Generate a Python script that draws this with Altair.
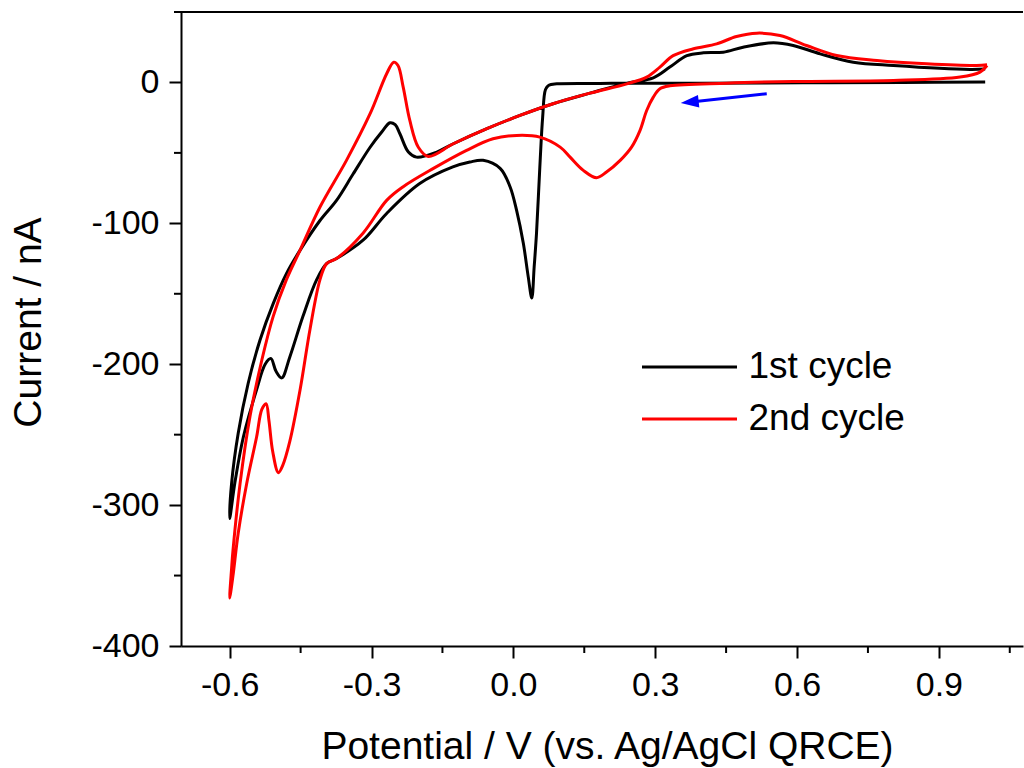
import altair as alt
import pandas as pd

FONT = "Liberation Sans"

# ---- data ----
series_names = ["1st cycle", "2nd cycle"]
series_colors = ["#000000", "#ff0000"]

cycle1_potential = [0.998, 0.823, 0.612, 0.394, 0.240, 0.183, 0.092, 0.075, 0.068, 0.062, 0.056, 0.049,
                    0.044, 0.039, 0.0315, 0.021, 0.007, -0.007, -0.028, -0.064, -0.092, -0.128, -0.198,
                    -0.268, -0.318, -0.374, -0.395, -0.416, -0.445, -0.473, -0.490, -0.502, -0.513,
                    -0.525, -0.543, -0.571, -0.589, -0.600, -0.596, -0.582, -0.561, -0.536, -0.508,
                    -0.480, -0.451, -0.409, -0.374, -0.339, -0.303, -0.278, -0.261, -0.250, -0.240,
                    -0.222, -0.205, -0.162, -0.127, -0.056, 0.014, 0.084, 0.162, 0.240, 0.296, 0.331,
                    0.367, 0.402, 0.444, 0.486, 0.550, 0.592, 0.649, 0.719, 0.804, 0.966, 0.998]
cycle1_current = [0.3, 0.0, -0.3, -0.5, -0.5, -0.7, -1.0, -2.0, -5.0, -24.6, -60, -107,
                  -131, -153, -138, -114, -91, -74, -61, -55.3, -56.5, -60, -71.8,
                  -93, -112, -125, -128.6, -140, -166, -195, -209.7, -205, -196,
                  -200, -218, -251.5, -284, -309.5, -284.6, -249, -213.7, -183, -157,
                  -135.7, -119, -98, -83.7, -65, -46, -35, -28.6, -30, -36.4,
                  -49.4, -53, -49.4, -43.5, -32.8, -23.4, -15.1, -7.6, -0.5, 3.3, 10.9,
                  19, 21, 21.5, 25, 28.1, 26.2, 20.3, 14.4, 12, 9.2, 9.5]

cycle2_potential = [1.002, 0.987, 0.945, 0.804, 0.592, 0.451, 0.331, 0.310, 0.296, 0.282, 0.268,
                    0.250, 0.226, 0.197, 0.176, 0.148, 0.120, 0.099, 0.056, 0.007, -0.043, -0.099,
                    -0.169, -0.233, -0.268, -0.318, -0.374, -0.395, -0.409, -0.430, -0.451, -0.473,
                    -0.488, -0.497, -0.509, -0.517, -0.523, -0.532, -0.543, -0.564, -0.582, -0.593,
                    -0.600, -0.596, -0.593, -0.578, -0.557, -0.532, -0.508, -0.480, -0.451, -0.409,
                    -0.353, -0.303, -0.268, -0.253, -0.244, -0.233, -0.219, -0.201, -0.180, -0.127,
                    -0.056, 0.014, 0.084, 0.162, 0.240, 0.282, 0.310, 0.338, 0.381, 0.430, 0.472,
                    0.515, 0.564, 0.620, 0.684, 0.769, 0.874, 0.980, 1.002]
cycle2_current = [12, 7.3, 3.8, 1.4, 0.7, -0.5, -2.4, -4.5, -10.4, -19.9, -34,
                  -45.9, -55.3, -63.6, -67.6, -62.4, -53, -45.9, -38.8, -37.6, -40, -48.2,
                  -61, -74, -83.7, -107, -125, -128.6, -140, -175, -218, -255,
                  -272, -277, -262, -240, -228, -232, -251.5, -284.6, -320, -350,
                  -366, -345, -332, -284.6, -237, -197, -166, -140, -119, -88.4,
                  -55.3, -22.2, 6.2, 14.4, 12, -3.3, -27, -46, -52.5, -43.5,
                  -32.8, -23.4, -15.1, -7.6, -1, 3.8, 10.9, 19, 23.9, 27.4, 32.6,
                  35, 33.3, 26.2, 19.1, 15.6, 13.2, 12, 12.5]

x_major = [-0.6, -0.3, 0.0, 0.3, 0.6, 0.9]
x_minor = [-0.45, -0.15, 0.15, 0.45, 0.75, 1.05]
y_major = [-400, -300, -200, -100, 0]
y_minor = [-350, -250, -150, -50, 50]

arrow_potential = [0.536, 0.376]
arrow_current = [-8.0, -13.8]
arrow_head_potential = [0.373]
arrow_head_current = [-14.0]

# ---- build tables ----
rows = []
for name, xs, ys in [(series_names[0], cycle1_potential, cycle1_current),
                     (series_names[1], cycle2_potential, cycle2_current)]:
    for i, (px, cy) in enumerate(zip(xs, ys)):
        rows.append({"potential": px, "current": cy, "cycle": name, "i": i})
df = pd.DataFrame(rows)

W, H = 842, 634
xscale = alt.Scale(domain=[-0.703, 1.078], nice=False, zero=False)
yscale = alt.Scale(domain=[-400, 50], nice=False, zero=False)

xaxis = alt.Axis(
    values=x_major, tickSize=12, tickWidth=2, tickColor="black",
    domainWidth=2, domainColor="black", grid=False,
    labelFont=FONT, labelFontSize=34, labelColor="black", labelPadding=10,
    labelFlush=False, labelOverlap=False,
    labelExpr="datum.value < 0 ? '-' + format(-datum.value, '.1f') : format(datum.value, '.1f')",
    title="Potential / V (vs. Ag/AgCl QRCE)", titleFont=FONT, titleFontSize=39,
    titleFontWeight="normal", titleColor="black", titleBaseline="alphabetic",
    titleY=112, titleX=426,
)
yaxis = alt.Axis(
    values=y_major, tickSize=12, tickWidth=2, tickColor="black",
    domainWidth=2, domainColor="black", grid=False,
    labelFont=FONT, labelFontSize=34, labelColor="black", labelPadding=10,
    labelFlush=False, labelOverlap=False,
    labelExpr="datum.value < 0 ? '-' + format(-datum.value, 'd') : format(datum.value, 'd')",
    title="Current / nA", titleFont=FONT, titleFontSize=39,
    titleFontWeight="normal", titleColor="black", titleBaseline="alphabetic",
    titleAngle=270, titleX=-141, titleY=310,
)

lines = alt.Chart(df).mark_line(strokeWidth=3, interpolate="catmull-rom").encode(
    x=alt.X("potential:Q", scale=xscale, axis=xaxis),
    y=alt.Y("current:Q", scale=yscale, axis=yaxis),
    color=alt.Color(
        "cycle:N",
        scale=alt.Scale(domain=series_names, range=series_colors),
        legend=alt.Legend(
            title=None, orient="none", legendX=459.5, legendY=335, direction="vertical",
            symbolType="stroke", symbolSize=9025, symbolStrokeWidth=3,
            labelFont=FONT, labelFontSize=37, labelColor="black", labelOffset=10,
            clipHeight=40, rowPadding=12, padding=0, labelLimit=400,
        ),
    ),
    order=alt.Order("i:Q"),
)

xminor = alt.Chart(pd.DataFrame({"potential": x_minor})).mark_rule(color="black", strokeWidth=2).encode(
    x=alt.X("potential:Q", scale=xscale, axis=xaxis), y=alt.value(H), y2=alt.value(H + 7)
)
yminor = alt.Chart(pd.DataFrame({"current": y_minor})).mark_rule(color="black", strokeWidth=2).encode(
    y=alt.Y("current:Q", scale=yscale, axis=yaxis), x=alt.value(-7), x2=alt.value(0)
)
top_frame = alt.Chart(pd.DataFrame({"a": [0]})).mark_rule(color="black", strokeWidth=2).encode(
    x=alt.value(0), x2=alt.value(W), y=alt.value(0)
)

arrow_line = alt.Chart(pd.DataFrame({"potential": arrow_potential, "current": arrow_current})).mark_line(
    color="#0000ff", strokeWidth=3
).encode(
    x=alt.X("potential:Q", scale=xscale, axis=xaxis), y=alt.Y("current:Q", scale=yscale, axis=yaxis)
)
arrow_head = alt.Chart(pd.DataFrame({"potential": arrow_head_potential, "current": arrow_head_current})).mark_point(
    shape="M-1,0L1,-0.7L1,0.7Z", filled=True, size=324, color="#0000ff", opacity=1, angle=354
).encode(
    x=alt.X("potential:Q", scale=xscale, axis=xaxis), y=alt.Y("current:Q", scale=yscale, axis=yaxis)
)

chart = alt.layer(lines, xminor, yminor, top_frame, arrow_line, arrow_head).properties(
    width=W, height=H,
    padding={"left": 181, "top": 12, "right": 1, "bottom": 122},
    autosize="none",
    background="white",
).configure_view(stroke=None)

chart.save("out.html", embed_options={"renderer": "svg", "actions": False})
